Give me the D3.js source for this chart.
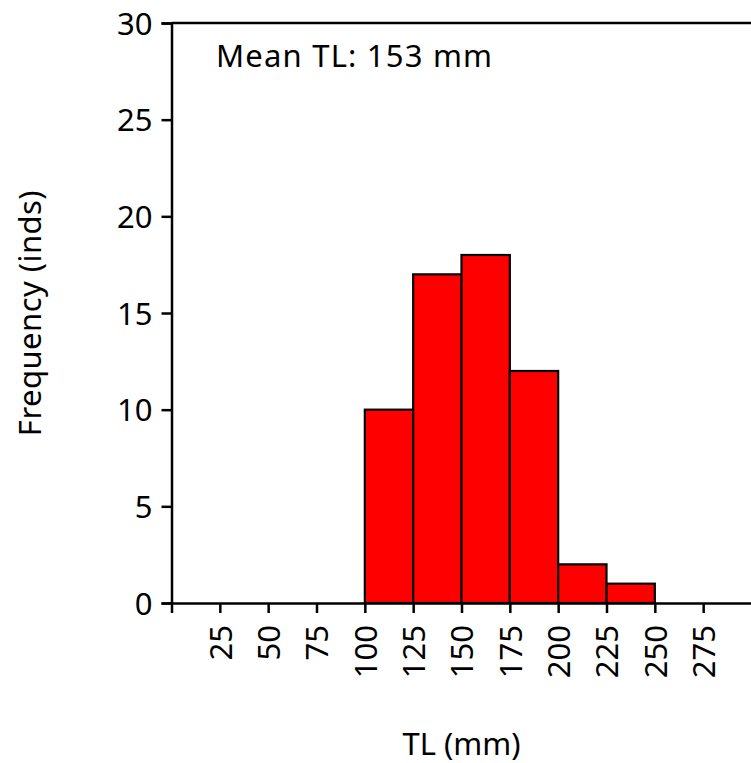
<!DOCTYPE html>
<html>
<head>
<meta charset="utf-8">
<script src="https://cdn.jsdelivr.net/npm/d3@7"></script>
<style>
  html, body { margin: 0; padding: 0; background: #fff; }
  svg { display: block; }
  text { font-family: "Noto Sans", "DejaVu Sans", sans-serif; fill: #000; }
</style>
</head>
<body>
<svg id="chart" width="751" height="763"></svg>
<script>
// Length-frequency histogram (25 mm classes)
const binStarts = [100, 125, 150, 175, 200, 225];
const binWidth = 25;
const counts = [10, 17, 18, 12, 2, 1];
const xTicks = [25, 50, 75, 100, 125, 150, 175, 200, 225, 250, 275];
const yTicks = [0, 5, 10, 15, 20, 25, 30];
const meanTL = 153;

const svg = d3.select("#chart");
const plot = { left: 171.5, right: 751.5, top: 23, bottom: 603 };

const x = d3.scaleLinear().domain([0, 300]).range([plot.left, plot.right]);
const y = d3.scaleLinear().domain([0, 30]).range([plot.bottom, plot.top]);

const fontSize = 31;

// Bars
svg.append("g").selectAll("rect")
  .data(binStarts.map((s, i) => ({ s, c: counts[i] })))
  .join("rect")
  .attr("x", d => x(d.s))
  .attr("width", d => x(d.s + binWidth) - x(d.s))
  .attr("y", d => y(d.c))
  .attr("height", d => y(0) - y(d.c))
  .attr("fill", "#ff0000")
  .attr("stroke", "#000")
  .attr("stroke-width", 2.2);

// Frame (top edge)
svg.append("line")
  .attr("x1", plot.left).attr("x2", plot.right)
  .attr("y1", plot.top).attr("y2", plot.top)
  .attr("stroke", "#000").attr("stroke-width", 2.5);

// Y axis
const yAxis = svg.append("g")
  .attr("transform", `translate(${plot.left},0)`)
  .call(d3.axisLeft(y).tickValues(yTicks).tickSize(10).tickPadding(9));
yAxis.select(".domain").attr("stroke-width", 2.5);
yAxis.selectAll(".tick line").attr("stroke-width", 2.5);
yAxis.selectAll(".tick text")
  .style("font-size", fontSize + "px")
  .attr("font-family", null)
  .attr("dy", "0.36em");

// X axis
const xAxis = svg.append("g")
  .attr("transform", `translate(0,${plot.bottom})`)
  .call(d3.axisBottom(x).tickValues([0].concat(xTicks)).tickSize(10).tickSizeOuter(0)
    .tickFormat(d => d === 0 ? "" : d));
xAxis.select(".domain").attr("stroke-width", 2.5);
xAxis.selectAll(".tick line").attr("stroke-width", 2.5);
xAxis.selectAll(".tick text")
  .style("font-size", fontSize + "px")
  .attr("font-family", null)
  .attr("text-anchor", "end")
  .attr("transform", "rotate(-90)")
  .attr("x", -22)
  .attr("y", 0)
  .attr("dy", "0.36em");

// Annotation
svg.append("text")
  .attr("x", 216).attr("y", 67)
  .style("font-size", fontSize + "px")
  .style("letter-spacing", "1.2px")
  .text(`Mean TL: ${meanTL} mm`);

// Axis titles
svg.append("text")
  .attr("x", (plot.left + plot.right) / 2).attr("y", 755)
  .attr("text-anchor", "middle")
  .style("font-size", fontSize + "px")
  .text("TL (mm)");

svg.append("text")
  .attr("transform", `translate(41,${(plot.top + plot.bottom) / 2}) rotate(-90)`)
  .attr("text-anchor", "middle")
  .style("font-size", fontSize + "px")
  .style("letter-spacing", "0.45px")
  .text("Frequency (inds)");
</script>
</body>
</html>
